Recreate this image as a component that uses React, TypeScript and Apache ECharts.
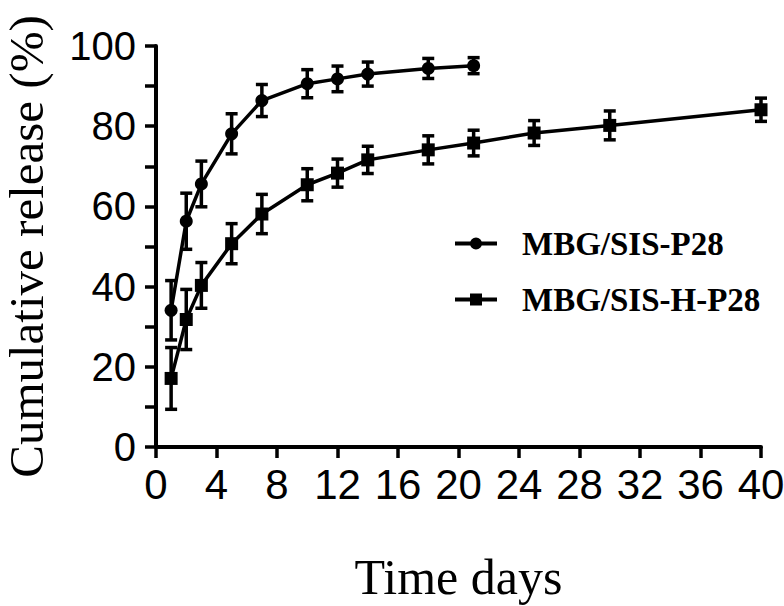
import React, { useEffect, useRef } from "react";
import * as echarts from "echarts";

const days1 = [1, 2, 3, 5, 7, 10, 12, 14, 18, 21];
const mean1 = [34.1, 56.3, 65.6, 78.1, 86.4, 90.6, 91.8, 93.0, 94.4, 95.1];
const err1 = [7.4, 7, 5.7, 5, 4, 3.5, 3.2, 3, 2.5, 2];

const days2 = [1, 2, 3, 5, 7, 10, 12, 14, 18, 21, 25, 30, 40];
const mean2 = [17.1, 31.8, 40.3, 50.7, 58.1, 65.4, 68.3, 71.6, 74.1, 75.8, 78.3, 80.2, 84.1];
const err2 = [7.7, 7.5, 5.7, 5, 4.9, 4, 3.5, 3.4, 3.5, 3.2, 3.1, 3.6, 2.9];

const seriesNames = ["MBG/SIS-P28", "MBG/SIS-H-P28"];
const xTicks = { min: 0, max: 40, interval: 4 };
const yTicks = { min: 0, max: 100, interval: 10, labelEvery: 20 };

const circleIcon = "path://M0,4L42,4L42,8L0,8Z M27,6A6,6,0,1,1,15,6A6,6,0,1,1,27,6Z";
const squareIcon = "path://M0,4L42,4L42,8L0,8Z M15,0L27,0L27,12L15,12Z";

export default function App() {
  const ref = useRef<HTMLDivElement>(null);
  useEffect(() => {
    document.body.style.margin = "0";
    const chart = echarts.init(ref.current!, null, { renderer: "svg" });
    const errData = (d: number[], m: number[], e: number[]) =>
      d.map((x, i) => [x, m[i] - e[i], m[i] + e[i]]);
    const renderErr = (params: any, api: any) => {
      const x = api.value(0);
      const lo = api.coord([x, api.value(1)]);
      const hi = api.coord([x, api.value(2)]);
      const cap = 6;
      const style = { stroke: "#000", lineWidth: 3.5 };
      return {
        type: "group",
        children: [
          { type: "line", shape: { x1: lo[0], y1: lo[1], x2: hi[0], y2: hi[1] }, style },
          { type: "line", shape: { x1: lo[0] - cap, y1: lo[1], x2: lo[0] + cap, y2: lo[1] }, style },
          { type: "line", shape: { x1: hi[0] - cap, y1: hi[1], x2: hi[0] + cap, y2: hi[1] }, style },
        ],
      };
    };
    chart.setOption({
      animation: false,
      backgroundColor: "#fff",
      grid: { left: 156, right: 23, top: 46, bottom: 159, containLabel: false, outerBoundsMode: "none" },
      legend: {
        data: [
          { name: seriesNames[0], icon: circleIcon },
          { name: seriesNames[1], icon: squareIcon },
        ],
        orient: "vertical",
        left: 450,
        top: 222,
        itemWidth: 42,
        itemHeight: 12,
        itemGap: 23,
        itemStyle: { color: "#000" },
        textStyle: {
          fontFamily: "Liberation Serif",
          fontWeight: "bold",
          fontSize: 33,
          color: "#000",
          padding: [0, 0, 0, 20],
        },
      },
      xAxis: {
        type: "value",
        min: xTicks.min,
        max: xTicks.max,
        interval: xTicks.interval,
        name: "Time days",
        nameLocation: "middle",
        nameGap: 105,
        nameTextStyle: { fontFamily: "Liberation Serif", fontSize: 50, color: "#000" },
        axisLine: { lineStyle: { color: "#000", width: 4 } },
        axisTick: { lineStyle: { color: "#000", width: 3.5 }, length: 11 },
        axisLabel: { fontFamily: "Liberation Sans", fontSize: 42, color: "#000", margin: 16 },
        splitLine: { show: false },
      },
      yAxis: {
        type: "value",
        min: yTicks.min,
        max: yTicks.max,
        interval: yTicks.interval,
        name: "Cumulative release (%)",
        nameLocation: "middle",
        nameGap: 105,
        nameTextStyle: { fontFamily: "Liberation Serif", fontSize: 49, color: "#000" },
        axisLine: { lineStyle: { color: "#000", width: 4 } },
        axisTick: { lineStyle: { color: "#000", width: 3.5 }, length: 11 },
        axisLabel: {
          fontFamily: "Liberation Sans",
          fontSize: 40,
          color: "#000",
          margin: 20,
          formatter: (v: number) => (v % yTicks.labelEvery === 0 ? String(v) : ""),
        },
        splitLine: { show: false },
      },
      series: [
        {
          type: "custom",
          renderItem: renderErr,
          data: errData(days1, mean1, err1),
          encode: { x: 0, y: [1, 2] },
          z: 1,
          clip: false,
        },
        {
          type: "custom",
          renderItem: renderErr,
          data: errData(days2, mean2, err2),
          encode: { x: 0, y: [1, 2] },
          z: 1,
          clip: false,
        },
        {
          name: seriesNames[0],
          type: "line",
          data: days1.map((x, i) => [x, mean1[i]]),
          symbol: "circle",
          symbolSize: 13,
          itemStyle: { color: "#000" },
          lineStyle: { color: "#000", width: 3.5 },
          z: 3,
          clip: false,
        },
        {
          name: seriesNames[1],
          type: "line",
          data: days2.map((x, i) => [x, mean2[i]]),
          symbol: "rect",
          symbolSize: 13,
          itemStyle: { color: "#000" },
          lineStyle: { color: "#000", width: 3.5 },
          z: 3,
          clip: false,
        },
      ],
    });
    return () => chart.dispose();
  }, []);
  return <div ref={ref} style={{ width: 784, height: 606 }} />;
}
